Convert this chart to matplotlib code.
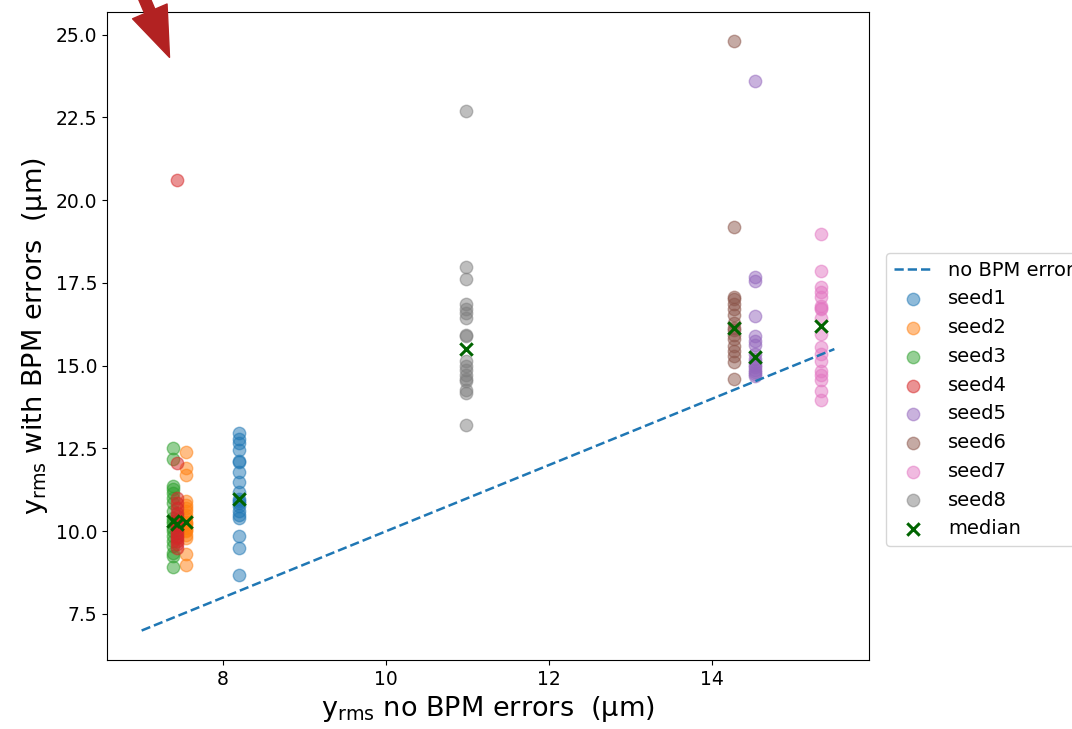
import matplotlib
matplotlib.use("Agg")
import matplotlib.pyplot as plt
import numpy as np

# y_rms (um) without BPM errors for each seed, and the spread with BPM errors
seed_names = ["seed1", "seed2", "seed3", "seed4", "seed5", "seed6", "seed7", "seed8"]
seed_x = [8.19, 7.55, 7.39, 7.44, 14.53, 14.27, 15.33, 10.98]

seed1 = [12.97, 12.78, 12.66, 12.46, 12.12, 12.08, 11.80, 11.50, 11.17, 10.98,
         10.92, 10.85, 10.75, 10.60, 10.50, 10.40, 9.85, 9.48, 8.67]
seed2 = [12.38, 11.90, 11.70, 10.92, 10.80, 10.70, 10.60, 10.50, 10.40, 10.28,
         10.25, 10.20, 10.10, 10.05, 10.00, 9.90, 9.80, 9.32, 8.97]
seed3 = [12.52, 12.18, 11.38, 11.28, 11.15, 11.00, 10.85, 10.60, 10.40, 10.30,
         10.25, 10.10, 10.00, 9.85, 9.70, 9.55, 9.35, 9.25, 8.92]
seed4 = [20.60, 12.05, 11.00, 10.85, 10.70, 10.55, 10.45, 10.35, 10.25, 10.20,
         10.15, 10.05, 9.95, 9.85, 9.80, 9.70, 9.60, 9.50]
seed5 = [23.59, 17.67, 17.57, 16.50, 15.90, 15.75, 15.62, 15.35,
         15.20, 15.10, 15.02, 14.95, 14.88, 14.80, 14.75, 14.70]
seed6 = [24.79, 19.18, 17.07, 17.02, 16.85, 16.70, 16.52, 16.30, 16.15,
         16.08, 15.92, 15.80, 15.60, 15.45, 15.30, 15.10, 14.60]
seed7 = [18.98, 17.87, 17.37, 17.22, 17.07, 16.80, 16.75, 16.70, 16.45,
         15.95, 15.55, 15.35, 15.15, 14.85, 14.72, 14.58, 14.22, 13.97]
seed8 = [22.68, 17.97, 17.62, 16.85, 16.72, 16.58, 16.45, 15.92, 15.88,
         15.15, 15.00, 14.88, 14.72, 14.60, 14.55, 14.25, 14.18, 13.20]
seed_y = [seed1, seed2, seed3, seed4, seed5, seed6, seed7, seed8]

# reference line: no BPM errors
ref_x = [7.0, 15.5]

fig = plt.figure(figsize=(10.72, 7.29), dpi=100)
ax = fig.add_axes([107 / 1072, 69 / 729, 762 / 1072, 648 / 729])

ax.plot(ref_x, ref_x, "--", color="tab:blue", lw=1.8, label="no BPM errors")

med_x, med_y = [], []
for name, x0, ys in zip(seed_names, seed_x, seed_y):
    ax.scatter(np.full(len(ys), x0), ys, s=80, alpha=0.5, label=name)
    med_x.append(x0)
    med_y.append(np.median(ys))

ax.scatter(med_x, med_y, marker="x", s=80, linewidths=2.2, color="darkgreen",
           zorder=5, label="median")

lab_font = dict(size=19.5)
ax.set_xlabel(r"$\mathregular{y_{rms}}$ no BPM errors  (μm)", **lab_font)
ax.set_ylabel(r"$\mathregular{y_{rms}}$ with BPM errors  (μm)", **lab_font)
ax.tick_params(labelsize=13.5)

ax.legend(loc="center left", bbox_to_anchor=(1.022, 0.402), borderaxespad=0,
          fontsize=14)

# arrow pointing into the top left corner
ax.annotate("", xy=(7.342, 24.31), xytext=(-30, 70), textcoords="offset points",
            arrowprops=dict(arrowstyle="simple,head_length=36,head_width=27,tail_width=8",
                            mutation_scale=1, color="#b22222", shrinkA=0, shrinkB=0),
            annotation_clip=False)

fig.savefig("out.png", dpi=100)
